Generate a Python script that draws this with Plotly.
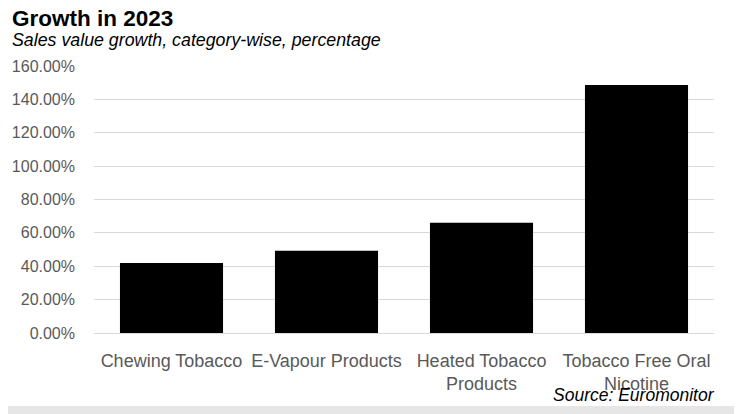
import plotly.graph_objects as go

categories = ["Chewing Tobacco", "E-Vapour Products", "Heated Tobacco<br>Products", "Tobacco Free Oral<br>Nicotine"]
growth_pct = [42.0, 49.3, 66.0, 148.6]
tick_vals = [0, 20, 40, 60, 80, 100, 120, 140, 160]
tick_text = ["0.00%", "20.00%", "40.00%", "60.00%", "80.00%", "100.00%", "120.00%", "140.00%", "160.00%"]

OFF = 8  # page body margin
W, H = 742 - OFF, 414 - OFF
L, R, T, B = 94 - OFF, 28, 66 - OFF, 81

fig = go.Figure(go.Bar(x=categories, y=growth_pct, marker=dict(color="#000000", line=dict(width=0))))

fig.update_layout(
    width=W, height=H,
    margin=dict(l=L, r=R, t=T, b=B, autoexpand=False),
    paper_bgcolor="#ffffff", plot_bgcolor="#ffffff",
    bargap=0.335,
    showlegend=False,
    font=dict(family="Liberation Sans, Arial, sans-serif", color="#595959"),
)
fig.update_yaxes(
    range=[0, 160], tickvals=tick_vals, ticktext=tick_text,
    showgrid=True, gridcolor="#d9d9d9", gridwidth=1.3,
    zeroline=True, zerolinecolor="#d9d9d9", zerolinewidth=1.3,
    showline=False, ticks="", ticklabelstandoff=18, automargin=False,
    tickfont=dict(size=16, color="#595959"),
)
fig.update_xaxes(
    showgrid=False, showline=False, ticks="", ticklabelstandoff=15, automargin=False,
    tickfont=dict(size=18, color="#595959"),
)

pw = W - L - R
ph = H - T - B
def px(xpix):  # page x pixel -> paper
    return (xpix - OFF - L) / pw
def py(ypix):  # page y pixel -> paper
    return (H - B - (ypix - OFF)) / ph

fig.add_annotation(text="<b>Growth in 2023</b>", xref="paper", yref="paper",
                   x=px(10), y=py(18.5), xanchor="left", yanchor="middle", height=18,
                   showarrow=False, font=dict(size=22.5, color="#000000"))
fig.add_annotation(text="<i>Sales value growth, category-wise, percentage</i>", xref="paper", yref="paper",
                   x=px(10), y=py(40), xanchor="left", yanchor="middle",
                   showarrow=False, font=dict(size=17.8, color="#000000"))
fig.add_annotation(text="<i>Source: Euromonitor</i>", xref="paper", yref="paper",
                   x=px(717), y=py(395), xanchor="right", yanchor="middle",
                   showarrow=False, font=dict(size=17.5, color="#000000"))

fig.add_shape(type="rect", xref="paper", yref="paper",
              x0=px(0), x1=px(742), y0=py(414), y1=py(406),
              fillcolor="#e6e6e6", line=dict(width=0), layer="below")

fig.write_html("out.html")
